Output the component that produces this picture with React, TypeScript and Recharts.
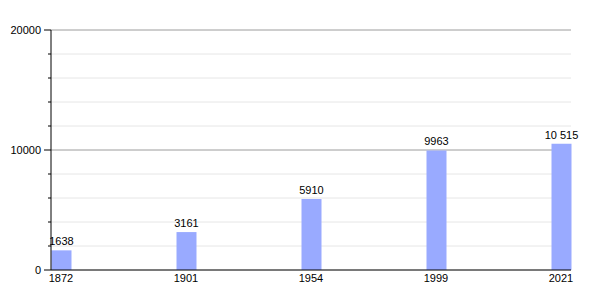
import React from 'react';
import { BarChart, Bar, XAxis, YAxis, CartesianGrid, LabelList } from 'recharts';

const years = ['1872', '1901', '1954', '1999', '2021'];
const population = [1638, 3161, 5910, 9963, 10515];
const yTicks = [0, 2000, 4000, 6000, 8000, 10000, 12000, 14000, 16000, 18000, 20000];
const majorTicks = [10000, 20000];
const Y_MAX = 20000;

const data = years.map((year, i) => ({ idx: i, year, value: population[i] }));

const AXIS_X = 51;
const FONT = '"Liberation Sans", Arial, sans-serif';

// thousands separated by a no-break space so the label stays on one line
const fmt = (v: number) => (v >= 10000 ? v.toString().replace(/\B(?=(\d{3})+(?!\d))/g, '\u00a0') : String(v));

const YTick = (props: any) => {
  const { y, payload } = props;
  const major = payload.value % 10000 === 0;
  return (
    <g>
      <line x1={AXIS_X - (major ? 7 : 3)} x2={AXIS_X} y1={y} y2={y} stroke="#000" />
      {major && (
        <text x={AXIS_X - 10} y={y} textAnchor="end" dominantBaseline="central" fontSize={11} fill="#000" fontFamily={FONT}>
          {payload.value}
        </text>
      )}
    </g>
  );
};

// major gridlines, placed from the plot offset and the y domain
const majorLines = (p: any) => {
  const top = p.offset?.top ?? 30;
  const h = p.offset?.height ?? 240;
  return majorTicks.map((v) => top + h * (1 - v / Y_MAX));
};

const App: React.FC = () => {
  return (
    <div style={{ position: 'absolute', left: 0, top: 0, background: '#fff' }}>
      <BarChart width={600} height={300} data={data} margin={{ top: 30, right: 29, left: 0, bottom: 10 }}>
        <CartesianGrid vertical={false} stroke="#e6e6e6" />
        <CartesianGrid vertical={false} stroke="#a8a8a8" horizontalCoordinatesGenerator={majorLines} />
        <XAxis
          type="number"
          dataKey="idx"
          domain={[0, years.length - 1]}
          ticks={years.map((_, i) => i)}
          tickFormatter={(i: number) => years[i]}
          padding={{ left: 10, right: 10 }}
          axisLine={{ stroke: '#000' }}
          tickLine={false}
          tickSize={0}
          tickMargin={4}
          height={20}
          tick={{ fontSize: 11, fill: '#000', fontFamily: FONT }}
        />
        <YAxis
          domain={[0, Y_MAX]}
          ticks={yTicks}
          interval={0}
          width={AXIS_X}
          axisLine={{ stroke: '#000' }}
          tickLine={false}
          tick={<YTick />}
        />
        <Bar dataKey="value" fill="#99aaff" barSize={20} isAnimationActive={false}>
          <LabelList
            dataKey="value"
            position="top"
            offset={5}
            formatter={(v: any) => fmt(Number(v))}
            style={{ fontSize: 11, fill: '#000', fontFamily: FONT }}
          />
        </Bar>
      </BarChart>
    </div>
  );
};

export default App;
